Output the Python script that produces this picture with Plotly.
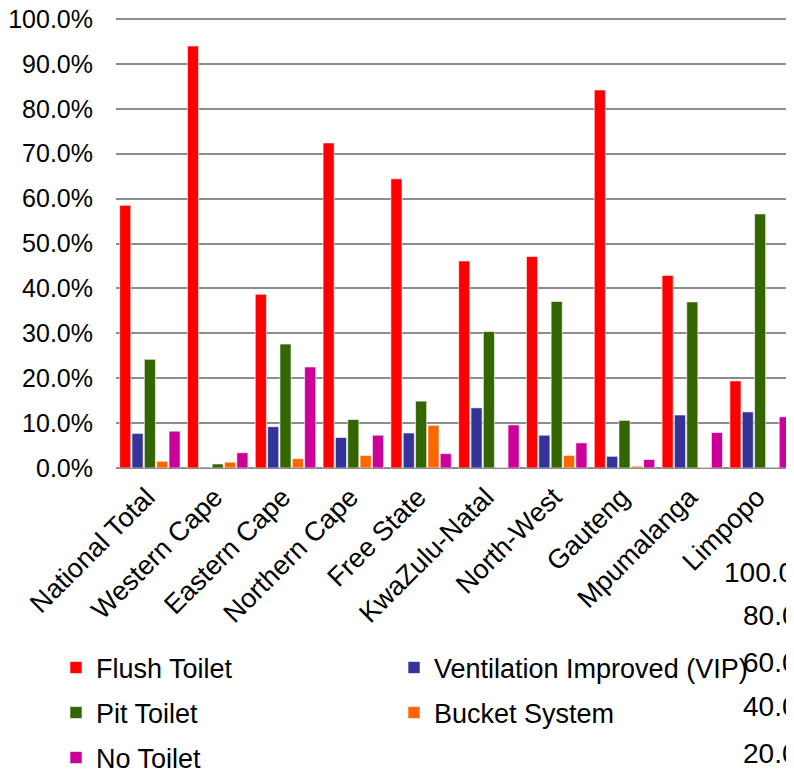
import plotly.graph_objects as go

categories = ["National Total", "Western Cape", "Eastern Cape", "Northern Cape",
              "Free State", "KwaZulu-Natal", "North-West", "Gauteng",
              "Mpumalanga", "Limpopo"]

flush_toilet = [58.5, 94.0, 38.7, 72.4, 64.4, 46.1, 47.1, 84.2, 42.9, 19.4]
vip_toilet   = [7.7, 0.2, 9.2, 6.8, 7.8, 13.4, 7.3, 2.6, 11.8, 12.5]
pit_toilet   = [24.2, 0.9, 27.6, 10.8, 14.9, 30.4, 37.1, 10.6, 37.0, 56.6]
bucket_sys   = [1.5, 1.3, 2.1, 2.8, 9.5, 0.1, 2.8, 0.4, 0.1, 0.0]
no_toilet    = [8.2, 3.4, 22.5, 7.3, 3.2, 9.6, 5.6, 1.9, 7.9, 11.4]

y_tick_values = [0, 10, 20, 30, 40, 50, 60, 70, 80, 90, 100]
y_tick_labels = ["0.0%", "10.0%", "20.0%", "30.0%", "40.0%", "50.0%",
                 "60.0%", "70.0%", "80.0%", "90.0%", "100.0%"]

series = [
    ("Flush Toilet", flush_toilet, "#FF0000", "legend"),
    ("Ventilation Improved (VIP)", vip_toilet, "#333399", "legend"),
    ("Pit Toilet", pit_toilet, "#336600", "legend2"),
    ("Bucket System", bucket_sys, "#FF6600", "legend2"),
    ("No Toilet", no_toilet, "#CC0099", "legend3"),
]

clipped_labels = ["100.0%", "80.0%", "60.0%", "40.0%", "20.0%"]

font_family = "Liberation Sans, Arial, sans-serif"

fig = go.Figure()
for name, vals, color, lg in series:
    extra = {}
    if name.startswith("Ventilation"):
        extra["legendwidth"] = 340
    fig.add_trace(go.Bar(
        x=categories, y=vals, name=name, legend=lg,
        marker=dict(color=color, line=dict(color="rgba(255,255,255,0.6)", width=1)),
        **extra,
    ))

# page body has an 8px margin: figure occupies window pixels 8..794 / 8..773
OFF = 8
Y_MAX = 100.45                      # a hair above 100 so the top gridline is kept
scale = (468 - 19) / 100.0          # window px per percent
plot_top = 468 - Y_MAX * scale      # window px
W, H = 794 - OFF, 773 - OFF
L, R = 116 - OFF, 0
T = int(round(plot_top - OFF))
B = H - (468 - OFF)
pw, ph = W - L - R, H - T - B

def px_x(x):
    return (x - OFF - L) / pw

def px_y(y):
    return (H - B - (y - OFF)) / ph

legend_common = dict(
    orientation="h", xanchor="left", yanchor="middle",
    font=dict(family=font_family, size=27, color="#000000"),
    entrywidth=293, entrywidthmode="pixels",
    bgcolor="rgba(0,0,0,0)", traceorder="normal",
)

fig.update_layout(
    width=W, height=H,
    margin=dict(l=L, r=R, t=T, b=B, pad=0, autoexpand=False),
    paper_bgcolor="white", plot_bgcolor="white",
    barmode="group", bargap=0.09, bargroupgap=0.1,
    font=dict(family=font_family, size=24, color="#000000"),
    showlegend=True,
    legend=dict(x=px_x(56), y=px_y(668), **legend_common),
    legend2=dict(x=px_x(56), y=px_y(713), **legend_common),
    legend3=dict(x=px_x(56), y=px_y(758), **legend_common),
    xaxis=dict(
        type="category", tickangle=-45,
        tickfont=dict(family=font_family, size=27, color="#000000"),
        showgrid=False, showline=False, ticks="",
        range=[-0.5, len(categories) - 0.5],
        ticklabelshift=-3, ticklabelstandoff=7,
    ),
    yaxis=dict(
        range=[0, Y_MAX], tickvals=y_tick_values, ticktext=y_tick_labels,
        tickfont=dict(family=font_family, size=25, color="#000000"),
        showgrid=True, gridcolor="#8c8c8c", gridwidth=1.5,
        zeroline=True, zerolinecolor="#8c8c8c", zerolinewidth=1.5,
        showline=False, ticks="", ticklabelstandoff=22,
        ticklabeloverflow="allow",
    ),
)

clip_x = [722, 741, 741, 741, 741]
clip_y = [572, 615, 662, 707, 753]
for txt, xx, yy in zip(clipped_labels, clip_x, clip_y):
    fig.add_annotation(
        text=txt, xref="paper", yref="paper",
        x=px_x(xx), y=px_y(yy), xanchor="left", yanchor="middle",
        showarrow=False,
        font=dict(family=font_family, size=28, color="#000000"),
    )

fig.write_html("out.html")
